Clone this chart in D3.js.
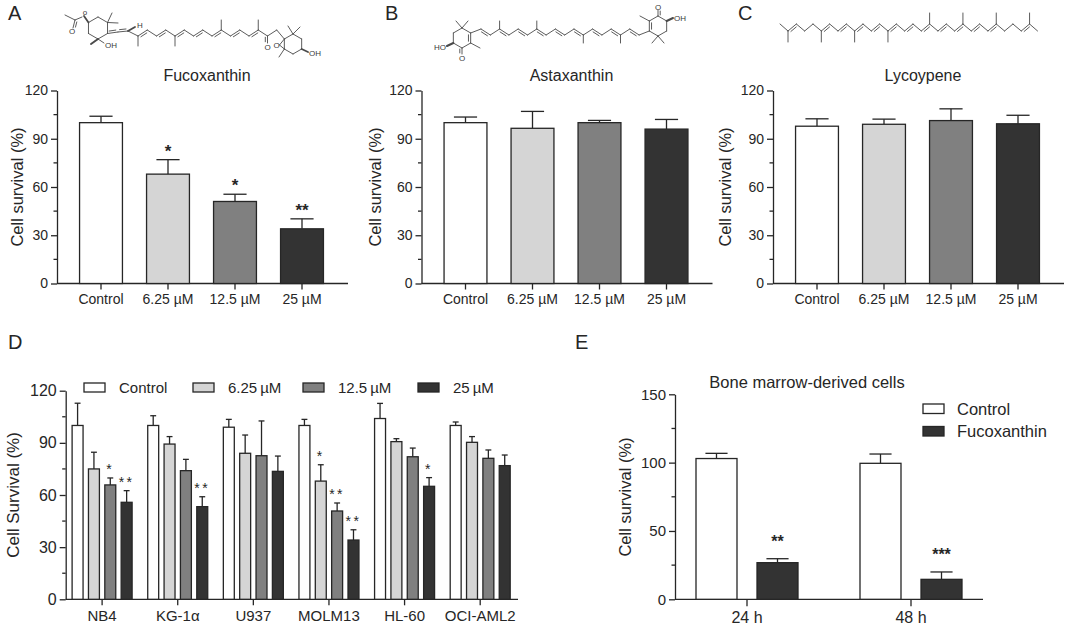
<!DOCTYPE html>
<html>
<head>
<meta charset="utf-8">
<script src="https://cdn.jsdelivr.net/npm/d3@7"></script>
<style>
  body { margin: 0; background: #fff; }
  svg { font-family: "Liberation Sans", Arial, sans-serif; }
</style>
</head>
<body>
<svg id="fig" width="1065" height="626"></svg>
<script>
// ---- data ----
const doseLabels = ["Control", "6.25 µM", "12.5 µM", "25 µM"];
const doseFills = ["#ffffff", "#d5d5d5", "#808080", "#333333"];

const fucoMean = [100, 68, 51, 34];
const fucoSd = [4, 9, 4.5, 6.2];
const fucoStars = ["", "*", "*", "**"];

const astaMean = [100, 96.5, 100, 96];
const astaSd = [3.5, 10.5, 1.4, 6];
const astaStars = ["", "", "", ""];

const lycoMean = [97.8, 99, 101.3, 99.3];
const lycoSd = [4.6, 3.2, 7.3, 5.3];
const lycoStars = ["", "", "", ""];

const abcTicks = [0, 30, 60, 90, 120];
const abcMinor = [15, 45, 75, 105];

// panel D
const cellLines = ["NB4", "KG-1α", "U937", "MOLM13", "HL-60", "OCI-AML2"];
const dCtrlMean = [100, 100, 99, 100, 104, 100];
const dCtrlSd = [12.8, 5.6, 4.5, 3.5, 8.7, 2];
const d625Mean = [75, 89.3, 84, 68, 90.7, 90.3];
const d625Sd = [9.6, 4.3, 10.5, 9.4, 1.7, 3.3];
const d125Mean = [65.8, 74, 82.6, 50.8, 82, 81.1];
const d125Sd = [4, 6.5, 20, 4.6, 5, 4.8];
const d25Mean = [55.8, 53.3, 73.6, 34.1, 65, 76.9];
const d25Sd = [6.7, 5.7, 8.8, 5.9, 5, 6.1];
const dCtrlStars = ["", "", "", "", "", ""];
const d625Stars = ["", "", "", "*", "", ""];
const d125Stars = ["*", "", "", "**", "", ""];
const d25Stars = ["**", "**", "", "**", "*", ""];

// panel E
const timeLabels = ["24 h", "48 h"];
const eGroups = ["Control", "Fucoxanthin"];
const eFills = ["#ffffff", "#333333"];
const eCtrlMean = [103, 99.5];
const eCtrlSd = [3.8, 6.8];
const eFucoMean = [26.8, 14.6];
const eFucoSd = [2.9, 5.4];
const eFucoStars = ["**", "***"];
const eTicks = [0, 50, 100, 150];
const eMinor = [25, 75, 125];

const ink = "#262626";
const svg = d3.select("#fig");

function styleAxis(g, fs) {
  g.select(".domain").attr("stroke", ink).attr("stroke-width", 1.3);
  g.selectAll(".tick line").attr("stroke", ink).attr("stroke-width", 1.3);
  g.selectAll(".tick text").attr("fill", ink).style("font-size", fs + "px");
}

function drawYAxis(g, y, ax, ticks, minor, fs) {
  const gy = g.append("g").attr("transform", `translate(${ax},0)`)
    .call(d3.axisLeft(y).tickValues(ticks).tickSize(6).tickSizeOuter(0).tickPadding(3).tickFormat(d3.format("d")));
  styleAxis(gy, fs);
  g.selectAll(null).data(minor).join("line")
    .attr("x1", ax - 3.5).attr("x2", ax)
    .attr("y1", d => y(d)).attr("y2", d => y(d))
    .attr("stroke", ink).attr("stroke-width", 1.3);
}

function drawXAxis(g, x, ax, xEnd, y0, fs, tickLen) {
  const gx = g.append("g").attr("transform", `translate(0,${y0})`)
    .call(d3.axisBottom(x).tickSize(tickLen).tickSizeOuter(0).tickPadding(5));
  gx.select(".domain").remove();
  styleAxis(gx, fs);
  g.append("line").attr("x1", ax).attr("x2", xEnd).attr("y1", y0).attr("y2", y0)
    .attr("stroke", ink).attr("stroke-width", 1.3);
}

function yTitle(g, text, x, y, fs) {
  g.append("text").attr("transform", `translate(${x},${y}) rotate(-90)`)
    .attr("text-anchor", "middle").attr("dominant-baseline", "central")
    .style("font-size", fs + "px").attr("fill", ink).text(text);
}

// bars with upward error bar and asterisks
function drawBars(g, rows, y, starGap, starFs, starSpacing, starWeight) {
  const grp = g.selectAll(null).data(rows).join("g");
  grp.append("line")
    .attr("x1", d => d.cx).attr("x2", d => d.cx)
    .attr("y1", d => y(d.mean)).attr("y2", d => y(d.mean + d.sd))
    .attr("stroke", ink).attr("stroke-width", 1.3);
  grp.append("line")
    .attr("x1", d => d.cx - d.w * 0.27).attr("x2", d => d.cx + d.w * 0.27)
    .attr("y1", d => y(d.mean + d.sd)).attr("y2", d => y(d.mean + d.sd))
    .attr("stroke", ink).attr("stroke-width", 1.3);
  grp.append("rect")
    .attr("x", d => d.cx - d.w / 2).attr("width", d => d.w)
    .attr("y", d => y(d.mean)).attr("height", d => y(0) - y(d.mean))
    .attr("fill", d => d.fill).attr("stroke", ink).attr("stroke-width", 1.3);
  grp.filter(d => d.star).append("text")
    .attr("x", d => d.cx).attr("y", d => y(d.mean + d.sd) - starGap)
    .attr("text-anchor", "middle").style("font-size", starFs + "px")
    .style("font-weight", starWeight).style("letter-spacing", starSpacing + "px")
    .attr("fill", ink).text(d => d.star);
}

// ---- panels A, B, C ----
function dosePanel(ax, title, means, sds, stars, labelX) {
  const g = svg.append("g");
  const y = d3.scaleLinear().domain([0, 120]).range([283.5, 90.5]);
  const x = d3.scaleBand().domain(doseLabels).range([ax + 10.5, ax + 278.5])
    .paddingInner(0.36).paddingOuter(0.18);
  drawXAxis(g, x, ax, ax + 291, y(0), 14, 6);
  drawYAxis(g, y, ax, abcTicks, abcMinor, 14);
  const rows = doseLabels.map((l, i) => ({
    cx: x(l) + x.bandwidth() / 2, w: x.bandwidth(),
    mean: means[i], sd: sds[i], fill: doseFills[i], star: stars[i]
  }));
  drawBars(g, rows, y, 3, 17, 0, "bold");
  yTitle(g, "Cell survival (%)", labelX, 187, 16.5);
  g.append("text").attr("x", ax + 150).attr("y", 81).attr("text-anchor", "middle")
    .style("font-size", "16px").attr("fill", ink).text(title);
}

dosePanel(57, "Fucoxanthin", fucoMean, fucoSd, fucoStars, 17);
dosePanel(421.5, "Astaxanthin", astaMean, astaSd, astaStars, 375);
dosePanel(773, "Lycoypene", lycoMean, lycoSd, lycoStars, 725);

// ---- panel D ----
(function () {
  const g = svg.append("g");
  const ax = 65.7;
  const y = d3.scaleLinear().domain([0, 120]).range([599.3, 390.7]);
  const x = d3.scaleBand().domain(cellLines).range([64.3, 518]);
  const sub = d3.scaleBand().domain(doseLabels).range([-30, 30]).paddingInner(0.33);
  drawXAxis(g, x, ax, 518, y(0), 15, 6);
  drawYAxis(g, y, ax, abcTicks, abcMinor, 16);
  const series = [
    [dCtrlMean, dCtrlSd, dCtrlStars],
    [d625Mean, d625Sd, d625Stars],
    [d125Mean, d125Sd, d125Stars],
    [d25Mean, d25Sd, d25Stars]
  ];
  const rows = [];
  cellLines.forEach((c, i) => {
    series.forEach((s, k) => {
      rows.push({
        cx: x(c) + x.bandwidth() / 2 + sub(doseLabels[k]) + sub.bandwidth() / 2,
        w: sub.bandwidth(), mean: s[0][i], sd: s[1][i], fill: doseFills[k], star: s[2][i]
      });
    });
  });
  drawBars(g, rows, y, 4, 14, 2.5, "normal");
  yTitle(g, "Cell Survival (%)", 13, 495, 17);

  // legend
  const legX = [84, 193, 303, 418];
  const leg = g.selectAll(null).data(doseLabels).join("g")
    .attr("transform", (d, i) => `translate(${legX[i]},383)`);
  leg.append("rect").attr("width", 21).attr("height", 9)
    .attr("fill", (d, i) => doseFills[i]).attr("stroke", ink).attr("stroke-width", 1.3);
  leg.append("text").attr("x", 35).attr("y", 10).style("font-size", "15px")
    .attr("fill", ink).text(d => d.replace(" ", "\u2009"));
})();

// ---- panel E ----
(function () {
  const g = svg.append("g");
  const ax = 675;
  const y = d3.scaleLinear().domain([0, 150]).range([599.3, 394.3]);
  const x = d3.scaleBand().domain(timeLabels).range([665, 993]);
  const sub = d3.scaleBand().domain(eGroups).range([-51, 51]).paddingInner(0.328);
  drawXAxis(g, x, ax, 983, y(0), 16, 7);
  drawYAxis(g, y, ax, eTicks, eMinor, 15);
  const series = [[eCtrlMean, eCtrlSd, ["", ""]], [eFucoMean, eFucoSd, eFucoStars]];
  const rows = [];
  timeLabels.forEach((t, i) => {
    series.forEach((s, k) => {
      rows.push({
        cx: x(t) + x.bandwidth() / 2 + sub(eGroups[k]) + sub.bandwidth() / 2,
        w: sub.bandwidth(), mean: s[0][i], sd: s[1][i], fill: eFills[k], star: s[2][i]
      });
    });
  });
  drawBars(g, rows, y, 12, 16, 0, "bold");
  yTitle(g, "Cell survival (%)", 625, 497, 16.5);
  g.append("text").attr("x", 807).attr("y", 388).attr("text-anchor", "middle")
    .style("font-size", "16.5px").attr("fill", ink).text("Bone marrow-derived cells");
  const leg = g.selectAll(null).data(eGroups).join("g")
    .attr("transform", (d, i) => `translate(923,${404 + i * 22.5})`);
  leg.append("rect").attr("width", 21).attr("height", 9.5)
    .attr("fill", (d, i) => eFills[i]).attr("stroke", ink).attr("stroke-width", 1.3);
  leg.append("text").attr("x", 34).attr("y", 10.5).style("font-size", "16.5px")
    .attr("fill", ink).text(d => d);
})();

// ---- panel letters ----
const letters = [["A", 8, 20], ["B", 385, 20], ["C", 738, 20], ["D", 8, 349], ["E", 575, 349]];
svg.selectAll(null).data(letters).join("text")
  .attr("x", d => d[1]).attr("y", d => d[2])
  .style("font-size", "20px").attr("fill", ink).text(d => d[0]);

// ---- chemical structures (schematic skeletal drawings) ----
const mol = svg.append("g").attr("stroke", "#4a4a4a").attr("stroke-width", 0.9)
  .attr("fill", "none").attr("stroke-linecap", "round");

function seg(a, b, w) {
  mol.append("line").attr("x1", a[0]).attr("y1", a[1]).attr("x2", b[0]).attr("y2", b[1])
    .attr("stroke-width", w || 0.9);
}
function dbl(a, b, toward) {
  seg(a, b);
  const dx = b[0] - a[0], dy = b[1] - a[1], L = Math.hypot(dx, dy);
  let nx = -dy / L, ny = dx / L;
  if (toward) {
    const mx = (a[0] + b[0]) / 2 - toward[0], my = (a[1] + b[1]) / 2 - toward[1];
    if (nx * mx + ny * my > 0) { nx = -nx; ny = -ny; }
  } else if (ny < 0) { nx = -nx; ny = -ny; }
  const o = 2.2, t = 0.18;
  seg([a[0] + dx * t + nx * o, a[1] + dy * t + ny * o], [b[0] - dx * t + nx * o, b[1] - dy * t + ny * o]);
}
function label(t, x, y, anchor) {
  svg.append("text").attr("x", x).attr("y", y).attr("text-anchor", anchor || "middle")
    .style("font-size", "8px").attr("fill", "#3a3a3a").text(t);
}
function zig(n, x0, dx, yEven, yOdd) {
  return d3.range(n).map(i => [x0 + i * dx, i % 2 ? yOdd : yEven]);
}
function hexPts(cx, cy, r) {
  return [-90, -30, 30, 90, 150, 210].map(a => [cx + r * Math.cos(a * Math.PI / 180), cy + r * Math.sin(a * Math.PI / 180)]);
}
function drawChain(p, doubles, methyls) {
  for (let i = 0; i < p.length - 1; i++) {
    if (doubles.includes(i)) dbl(p[i], p[i + 1]); else seg(p[i], p[i + 1]);
  }
  methyls.forEach(([i, len]) => seg(p[i], [p[i][0], p[i][1] + len]));
}
function drawRing(h, doubles, center) {
  for (let k = 0; k < 6; k++) {
    if (doubles.includes(k)) dbl(h[k], h[(k + 1) % 6], center); else seg(h[k], h[(k + 1) % 6]);
  }
}

// Lycopene
(function () {
  const p = zig(30, 788, 8.33, 31, 24);
  drawChain(p, [0, 4, 6, 8, 10, 12, 14, 16, 18, 20, 22, 24, 28],
    [[4, 11], [8, 11], [12, 11], [17, -11], [21, -11], [25, -11]]);
  seg(p[0], [780, 24]); seg(p[0], [788, 42]);
  seg(p[29], [p[29][0], 13]); seg(p[29], [p[29][0] + 8, 31]);
})();

// Astaxanthin
(function () {
  const p = zig(18, 481, 9.3, 29, 35);
  drawChain(p, [0, 2, 4, 6, 8, 10, 12, 14, 16], [[2, -8], [6, -8], [11, 8], [15, 8]]);
  const refl = q => [1120 - q[0], 64 - q[1]];
  [[462, 38], [658, 26]].forEach((c, side) => {
    const f = side ? refl : (q => q);
    const h = hexPts(462, 38, 10).map(f);
    drawRing(h, [1], f([462, 38]));
    seg(h[1], side ? p[17] : p[0]);
    seg(h[0], f([456, 21])); seg(h[0], f([468, 21]));
    seg(h[2], f([480, 48]));
    dbl(h[3], f([462, 54]));
    seg(h[4], f([447, 46]), 2);
  });
  label("O", 462, 61); label("HO", 446, 50, "end");
  label("O", 658, 10); label("OH", 674, 21, "start");
})();

// Fucoxanthin
(function () {
  const p = zig(16, 138, 9.25, 36, 30);
  drawChain(p, [0, 2, 4, 6, 8, 10, 12], [[0, 10], [4, 10], [9, -10], [13, -10]]);
  dbl(p[14], [267.5, 43], [262, 40]);
  label("O", 267.5, 50);
  // right ring with epoxide
  const hr = hexPts(293, 44, 10);
  drawRing(hr, [], [293, 44]);
  seg(p[15], hr[5]);
  seg(hr[0], [288, 26]); seg(hr[0], [300, 27]);
  seg(hr[2], [308, 52], 1.8); label("OH", 309, 56, "start");
  seg(hr[4], [279, 57]);
  seg(hr[4], [279.5, 45]); seg(hr[5], [279.5, 45]);
  label("O", 276.5, 48);
  // left ring with allene and acetate
  const hl = hexPts(98, 28, 11);
  drawRing(hl, [], [98, 28]);
  seg(hl[1], [112, 13]); seg(hl[1], [118, 23]);
  seg(hl[3], [91, 44], 2); seg(hl[3], [104, 43]); label("OH", 105, 48, "start");
  seg(hl[5], [84, 16], 1.8); label("o", 85, 15);
  seg([82, 17], [75, 20]); seg([75, 20], [65, 15]); dbl([75, 20], [73, 28], [80, 24]);
  label("O", 72, 34);
  const c7 = [118, 32], c8 = [128, 31];
  dbl(hl[2], c7, [118, 20]); dbl(c7, c8, [123, 20]);
  seg(c8, p[0]);
  seg(c8, [135, 27], 1.8); label("H", 140, 28);
})();
</script>
</body>
</html>
